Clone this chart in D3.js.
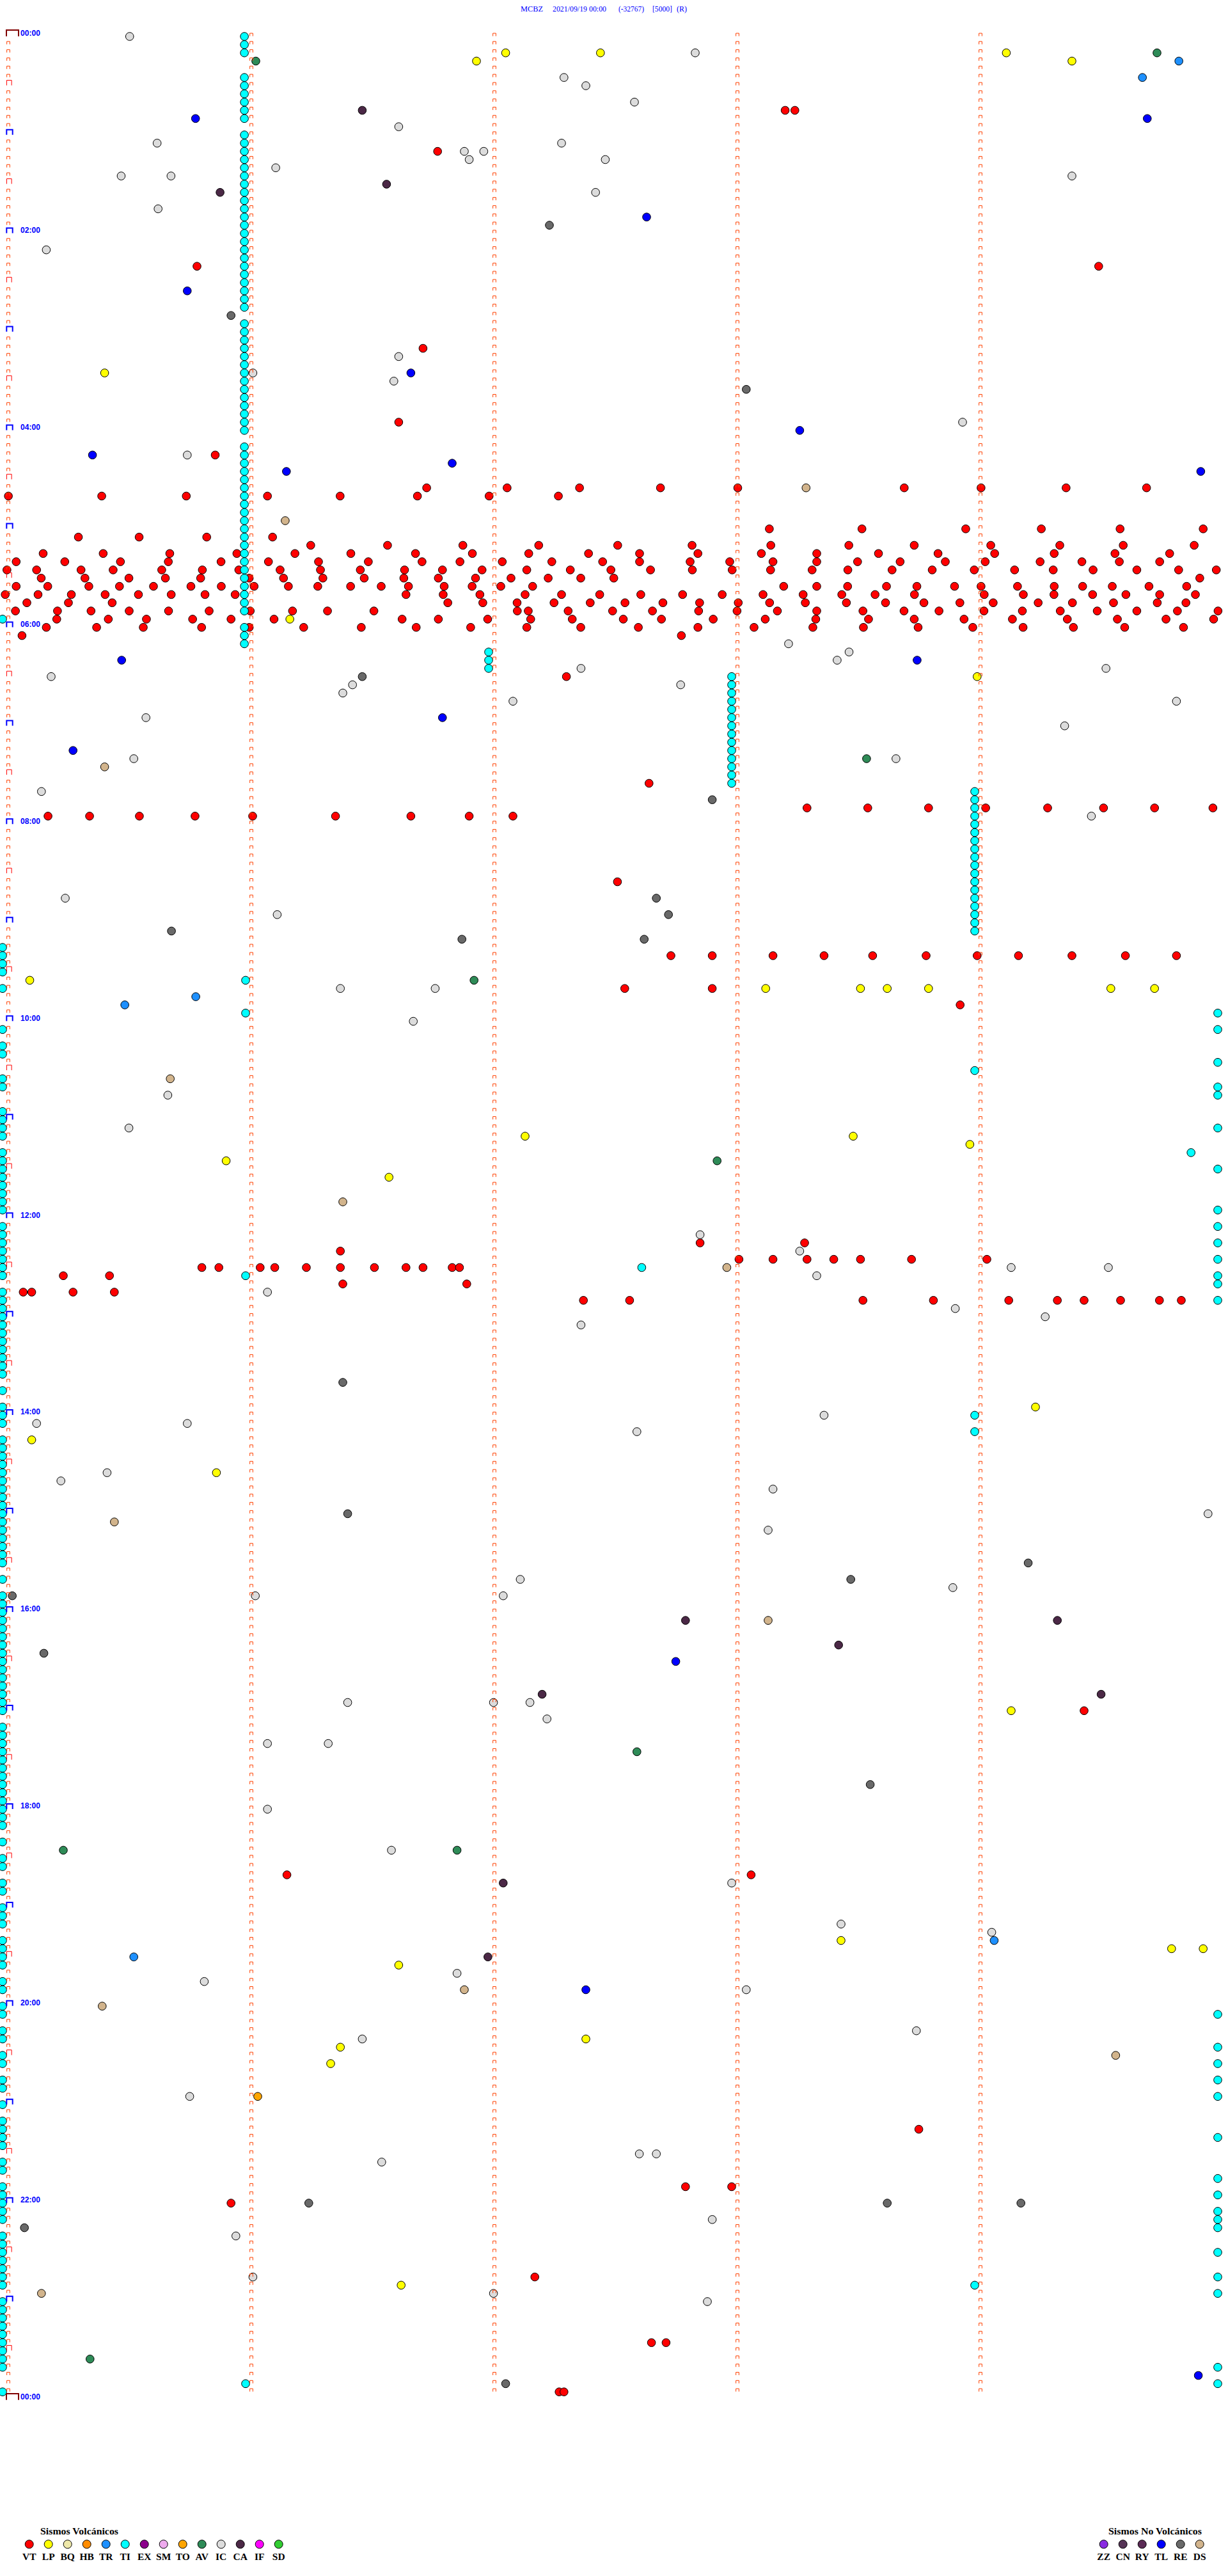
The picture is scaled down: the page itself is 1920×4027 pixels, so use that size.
<!DOCTYPE html>
<html>
<head>
<meta charset="utf-8">
<script src="https://cdn.jsdelivr.net/npm/d3@7"></script>
<style>
  body { margin: 0; background: #fff; }
  svg { display: block; }
</style>
</head>
<body>
<div id="chart"></div>
<script>
// Helicorder MCBZ: 288 filas de 5 minutos, cada evento = [fila, minuto dentro de la fila]
const tituloPartes = ["MCBZ", "2021/09/19 00:00", "(-32767)", "[5000]", "(R)"];
const horas = ["00:00", "02:00", "04:00", "06:00", "08:00", "10:00", "12:00",
  "14:00", "16:00", "18:00", "20:00", "22:00", "00:00"];

const tiposVolcanicos = ["VT", "LP", "BQ", "HB", "TR", "TI", "EX", "SM", "TO", "AV", "IC", "CA", "IF", "SD"];
const tiposNoVolcanicos = ["ZZ", "CN", "RY", "TL", "RE", "DS"];

const VT = [
  [9, 3.22], [9, 3.26], [14, 1.79], [28, 0.80], [28, 4.51], [38, 1.73], [47, 1.63], [51, 0.875],
  [55, 1.745], [55, 2.076], [55, 2.374], [55, 2.707], [55, 3.025], [55, 3.71], [55, 4.026], [55, 4.376], [55, 4.707],
  [56, 0.024], [56, 0.408], [56, 0.756], [56, 1.09], [56, 1.389], [56, 1.707], [56, 2.002], [56, 2.287],
  [60, 3.155], [60, 3.536], [60, 3.963], [60, 4.274], [60, 4.598], [60, 4.94],
  [61, 0.312], [61, 0.562], [61, 0.84], [61, 1.111],
  [62, 1.268], [62, 1.584], [62, 1.894], [62, 2.206], [62, 2.531], [62, 2.837], [62, 3.161], [62, 3.482],
  [62, 3.751], [62, 4.066], [62, 4.35], [62, 4.611], [62, 4.903],
  [63, 0.167], [63, 0.414], [63, 0.688], [63, 0.964], [63, 1.203], [63, 1.433], [63, 1.699], [63, 1.933],
  [63, 2.165], [63, 2.411], [63, 2.621], [63, 2.861], [63, 3.122], [63, 3.35], [63, 3.604], [63, 3.849],
  [63, 4.082], [63, 4.327], [63, 4.577], [63, 4.802],
  [64, 0.056], [64, 0.256], [64, 0.485], [64, 0.682], [64, 0.899], [64, 1.094], [64, 1.3], [64, 1.505],
  [64, 1.726], [64, 1.882], [64, 2.056], [64, 2.26], [64, 2.469], [64, 2.621], [64, 2.829], [64, 2.992],
  [64, 3.17], [64, 3.35], [64, 3.518], [64, 3.693], [64, 3.879], [64, 4.043], [64, 4.269], [64, 4.441],
  [64, 4.595], [64, 4.761],
  [65, 0.018], [65, 0.14], [65, 0.323], [65, 0.455], [65, 0.655], [65, 0.822], [65, 0.972], [65, 1.142],
  [65, 1.308], [65, 1.472], [65, 1.654], [65, 1.81], [65, 1.973], [65, 2.157], [65, 2.336], [65, 2.503],
  [65, 2.666], [65, 2.838], [65, 3.002], [65, 3.16], [65, 3.331], [65, 3.478], [65, 3.66], [65, 3.825],
  [65, 3.998], [65, 4.164], [65, 4.323], [65, 4.487], [65, 4.667], [65, 4.839], [65, 4.994],
  [66, 0.159], [66, 0.339], [66, 0.52], [66, 0.67], [66, 0.815], [66, 1.015], [66, 1.156], [66, 1.318],
  [66, 1.488], [66, 1.651], [66, 1.793], [66, 1.946], [66, 2.092], [66, 2.245], [66, 2.379], [66, 2.515], [66, 4.926],
  [67, 0.056], [67, 0.186], [67, 0.355], [67, 0.481], [67, 0.621], [67, 0.775], [67, 0.9], [67, 1.035],
  [67, 1.176], [67, 1.297], [67, 1.432], [67, 1.558], [67, 1.67], [67, 1.817], [67, 1.932], [67, 2.05],
  [67, 2.181], [67, 3.214], [67, 3.35], [67, 3.477], [67, 3.637], [67, 3.762], [67, 3.917], [67, 4.026],
  [67, 4.176], [67, 4.327], [67, 4.444], [67, 4.566], [67, 4.717], [67, 4.872],
  [68, 0.011], [68, 0.146], [68, 0.283], [68, 0.422], [68, 0.559], [68, 0.694], [68, 0.833], [68, 0.957],
  [68, 1.66], [68, 1.813], [68, 1.964], [68, 2.15], [68, 2.3], [68, 2.457], [68, 2.626], [68, 2.798],
  [68, 2.961], [68, 3.129], [68, 3.294], [68, 3.453], [68, 3.59], [68, 3.752], [68, 4.039], [68, 4.2],
  [68, 4.326], [68, 4.485], [68, 4.622], [68, 4.761], [68, 4.908],
  [69, 0.1], [69, 0.271], [69, 0.451], [69, 1.832], [69, 1.976], [69, 2.117], [69, 2.269], [69, 2.418],
  [69, 2.561], [69, 2.717], [69, 2.868], [69, 3.027], [69, 3.156], [69, 3.303], [69, 3.472], [69, 3.633],
  [69, 3.791], [69, 3.939], [69, 4.076], [69, 4.261], [69, 4.402], [69, 4.571], [69, 4.751], [69, 4.869],
  [70, 0.053], [70, 0.226], [70, 0.364], [70, 0.521], [70, 0.683], [70, 0.85], [70, 1.019], [70, 1.193],
  [70, 1.337], [70, 1.528], [70, 2.118], [70, 2.163], [70, 2.327], [70, 2.51], [70, 2.674], [70, 2.864],
  [70, 3.022], [70, 3.188], [70, 3.35], [70, 3.54], [70, 3.709], [70, 3.853], [70, 4.038], [70, 4.196],
  [70, 4.352], [70, 4.504], [70, 4.667], [70, 4.834], [70, 5.001],
  [71, 0.223], [71, 0.435], [71, 0.592], [71, 0.782], [71, 0.94], [71, 1.117], [71, 1.644], [71, 1.793],
  [71, 1.996], [71, 2.173], [71, 2.344], [71, 2.554], [71, 2.711], [71, 2.924], [71, 3.138], [71, 3.346],
  [71, 3.563], [71, 3.751], [71, 3.956], [71, 4.155], [71, 4.381], [71, 4.587], [71, 4.787], [71, 4.983],
  [72, 0.18], [72, 0.387], [72, 0.579], [72, 0.819], [72, 1.015], [72, 1.239], [72, 1.476], [72, 1.702],
  [72, 1.926], [72, 2.157], [72, 2.379], [72, 2.616], [72, 2.861], [72, 3.092], [72, 3.334], [72, 3.542],
  [72, 3.767], [72, 3.992], [72, 4.199], [72, 4.406], [72, 4.617], [72, 4.859],
  [73, 0.08], [73, 2.793], [78, 2.32], [91, 2.66],
  [94, 3.31], [94, 3.56], [94, 3.81], [94, 4.045], [94, 4.30], [94, 4.53], [94, 4.74], [94, 4.98],
  [95, 0.187], [95, 0.358], [95, 0.563], [95, 0.792], [95, 1.029], [95, 1.37], [95, 1.68], [95, 1.92], [95, 2.10],
  [103, 2.53],
  [112, 2.75], [112, 2.92], [112, 3.17], [112, 3.38], [112, 3.58], [112, 3.80], [112, 4.01], [112, 4.18],
  [112, 4.40], [112, 4.62], [112, 4.83],
  [116, 2.56], [116, 2.92], [118, 3.94],
  [147, 2.87], [147, 3.30], [148, 1.39],
  [149, 3.03], [149, 3.17], [149, 3.31], [149, 3.42], [149, 3.53], [149, 3.74], [149, 4.05],
  [150, 0.82], [150, 0.89], [150, 1.06], [150, 1.12], [150, 1.25], [150, 1.39], [150, 1.53], [150, 1.66],
  [150, 1.73], [150, 1.85], [150, 1.88],
  [151, 0.25], [151, 0.44], [152, 1.40], [152, 1.91],
  [153, 0.085], [153, 0.12], [153, 0.29], [153, 0.46],
  [154, 2.39], [154, 2.58], [154, 3.54], [154, 3.83], [154, 4.14], [154, 4.34], [154, 4.45], [154, 4.60],
  [154, 4.76], [154, 4.85],
  [204, 4.45], [224, 1.17], [224, 3.08], [255, 3.77], [262, 2.81], [262, 3.00], [264, 0.94], [273, 2.19],
  [281, 2.67], [281, 2.73], [287, 2.29], [287, 2.31]
];

const LP = [
  [2, 2.07], [3, 1.95], [2, 2.46], [2, 4.13], [3, 4.40], [41, 0.42], [71, 1.182], [78, 4.01], [115, 0.112],
  [116, 3.14], [116, 3.53], [116, 3.64], [116, 3.81], [116, 4.56], [116, 4.74], [134, 2.15], [134, 3.50],
  [135, 3.98], [137, 0.92], [139, 1.59], [167, 4.25], [171, 0.12], [175, 0.88], [204, 4.15], [232, 3.45],
  [233, 4.81], [233, 4.94], [235, 1.63], [244, 2.40], [245, 1.39], [247, 1.35], [274, 1.64]
];

const TR = [[3, 4.84], [5, 4.69], [117, 0.795], [118, 0.503], [232, 4.08], [234, 0.54]];

const TO = [[251, 1.05]];

const AV = [[2, 4.75], [3, 1.042], [88, 3.555], [115, 1.94], [137, 2.94], [209, 2.61], [221, 0.25], [221, 1.87], [283, 0.36]];

const IC = [
  [0, 0.523], [2, 2.85], [5, 2.31], [6, 2.40], [8, 2.60], [11, 1.63], [13, 0.636], [13, 2.30], [14, 1.90],
  [14, 1.98], [15, 1.92], [15, 2.48], [16, 1.124], [17, 0.488], [17, 0.693], [17, 4.40], [19, 2.44],
  [21, 0.64], [26, 0.18], [39, 1.63], [41, 1.03], [42, 1.61], [47, 3.95], [51, 0.76], [74, 3.234],
  [75, 3.483], [76, 3.434], [77, 2.38], [77, 4.54], [78, 0.20], [79, 1.44], [79, 2.79], [80, 1.40],
  [81, 2.10], [81, 4.83], [83, 0.59], [84, 4.37], [88, 0.54], [88, 3.676], [92, 0.16], [95, 4.48],
  [105, 0.258], [107, 1.13], [116, 1.39], [116, 1.78], [120, 1.69], [129, 0.68], [133, 0.52], [146, 2.87],
  [148, 3.28], [150, 4.15], [150, 4.55], [151, 3.35], [153, 1.09], [155, 3.92], [156, 4.29], [157, 2.38],
  [168, 3.38], [169, 0.76], [169, 0.14], [170, 2.61], [175, 0.43], [176, 0.24], [177, 3.17], [180, 4.96],
  [182, 3.15], [188, 2.13], [189, 3.91], [190, 2.06], [190, 1.04], [203, 1.42], [203, 2.02], [203, 2.17],
  [205, 2.24], [208, 1.09], [208, 1.34], [216, 1.09], [221, 1.60], [225, 3.00], [230, 3.45], [231, 4.07],
  [236, 1.87], [237, 0.83], [238, 3.06], [243, 3.76], [244, 1.48], [251, 0.77], [258, 2.62], [258, 2.69],
  [259, 1.56], [266, 2.92], [268, 0.96], [273, 1.03], [275, 2.02], [276, 2.90]
];

const CA = [[9, 1.48], [18, 1.58], [19, 0.895], [193, 2.81], [193, 4.34], [196, 3.44], [202, 2.22], [202, 4.52], [225, 2.06], [234, 1.997]];

const RE = [
  [23, 2.25], [34, 0.94], [43, 3.06], [78, 1.48], [93, 2.92], [105, 2.69], [107, 2.74], [109, 0.695],
  [110, 2.64], [110, 1.89], [164, 1.40], [180, 1.42], [186, 4.22], [188, 3.49], [190, 0.04], [197, 0.17],
  [213, 3.57], [264, 1.26], [264, 3.64], [264, 4.19], [267, 0.09], [286, 2.07]
];

const TL = [
  [10, 0.794], [10, 4.71], [22, 2.65], [31, 0.76], [41, 1.68], [48, 3.28], [51, 0.37], [52, 1.85],
  [53, 1.168], [53, 4.93], [76, 0.49], [76, 3.763], [83, 1.81], [87, 0.29], [198, 2.77], [238, 2.40], [285, 4.92]
];

const DS = [[55, 3.306], [59, 1.163], [89, 0.42], [127, 0.69], [142, 1.40], [150, 2.98], [181, 0.46], [193, 3.15], [238, 1.90], [240, 0.41], [246, 4.58], [275, 0.16]];

const TI = [
  // columna del minuto 1
  [0, 0.995], [1, 0.995], [2, 0.995], [5, 0.995], [6, 0.995], [7, 0.995], [8, 0.995], [9, 0.995], [10, 0.995],
  [12, 0.995], [13, 0.995], [14, 0.995], [15, 0.995], [16, 0.995], [17, 0.995], [18, 0.995], [19, 0.995],
  [20, 0.995], [21, 0.995], [22, 0.995], [23, 0.995], [24, 0.995], [25, 0.995], [26, 0.995], [27, 0.995],
  [28, 0.995], [29, 0.995], [30, 0.995], [31, 0.995], [32, 0.995], [33, 0.995], [35, 0.995], [36, 0.995],
  [37, 0.995], [38, 0.995], [39, 0.995], [40, 0.995], [41, 0.995], [42, 0.995], [43, 0.995], [44, 0.995],
  [45, 0.995], [46, 0.995], [47, 0.995], [48, 0.995], [50, 0.995], [51, 0.995], [52, 0.995], [53, 0.995],
  [54, 0.995], [55, 0.995], [56, 0.995], [57, 0.995], [58, 0.995], [59, 0.995], [60, 0.995], [61, 0.995],
  [62, 0.995], [63, 0.995], [64, 0.995], [65, 0.995], [66, 0.995], [67, 0.995], [68, 0.995], [69, 0.995],
  [70, 0.995], [72, 0.995], [73, 0.995], [74, 0.995],
  [115, 1.0], [119, 1.0], [151, 1.0], [286, 1.0],
  // minuto 2 y 3
  [75, 2.0], [76, 2.0], [77, 2.0], [150, 2.63],
  [78, 3.0], [79, 3.0], [80, 3.0], [81, 3.0], [82, 3.0], [83, 3.0], [84, 3.0], [85, 3.0], [86, 3.0],
  [87, 3.0], [88, 3.0], [89, 3.0], [90, 3.0], [91, 3.0],
  // minuto 4
  [92, 4.0], [93, 4.0], [94, 4.0], [95, 4.0], [96, 4.0], [97, 4.0], [98, 4.0], [99, 4.0], [100, 4.0],
  [101, 4.0], [102, 4.0], [103, 4.0], [104, 4.0], [105, 4.0], [106, 4.0], [107, 4.0], [108, 4.0], [109, 4.0],
  [126, 4.0], [168, 4.0], [170, 4.0], [274, 4.0], [136, 4.89],
  // borde derecho
  [119, 5.0], [121, 5.0], [125, 5.0], [128, 5.0], [129, 5.0], [133, 5.0], [138, 5.0], [143, 5.0], [145, 5.0],
  [147, 5.0], [149, 5.0], [151, 5.0], [152, 5.0], [154, 5.0], [241, 5.0], [245, 5.0], [247, 5.0], [249, 5.0],
  [251, 5.0], [256, 5.0], [261, 5.0], [263, 5.0], [265, 5.0], [266, 5.0], [267, 5.0], [270, 5.0], [273, 5.0],
  [275, 5.0], [284, 5.0], [286, 5.0],
  // borde izquierdo
  [71, 0.0], [111, 0.0], [112, 0.0], [113, 0.0], [114, 0.0], [116, 0.0], [121, 0.0], [123, 0.0], [124, 0.0],
  [127, 0.0], [128, 0.0], [131, 0.0], [132, 0.0], [133, 0.0], [134, 0.0], [136, 0.0], [137, 0.0], [138, 0.0],
  [139, 0.0], [140, 0.0], [141, 0.0], [142, 0.0], [143, 0.0], [145, 0.0], [146, 0.0], [147, 0.0], [148, 0.0],
  [149, 0.0], [150, 0.0], [151, 0.0], [153, 0.0], [154, 0.0], [155, 0.0], [156, 0.0], [157, 0.0], [158, 0.0],
  [159, 0.0], [160, 0.0], [161, 0.0], [162, 0.0], [163, 0.0], [165, 0.0], [167, 0.0], [168, 0.0], [169, 0.0],
  [171, 0.0], [172, 0.0], [173, 0.0], [174, 0.0], [175, 0.0], [176, 0.0], [177, 0.0], [178, 0.0], [179, 0.0],
  [180, 0.0], [181, 0.0], [182, 0.0], [183, 0.0], [184, 0.0], [185, 0.0], [186, 0.0], [188, 0.0], [190, 0.0],
  [191, 0.0], [192, 0.0], [193, 0.0], [194, 0.0], [195, 0.0], [196, 0.0], [197, 0.0], [198, 0.0], [199, 0.0],
  [200, 0.0], [201, 0.0], [202, 0.0], [203, 0.0], [204, 0.0], [206, 0.0], [207, 0.0], [208, 0.0], [209, 0.0],
  [210, 0.0], [211, 0.0], [212, 0.0], [213, 0.0], [214, 0.0], [215, 0.0], [216, 0.0], [217, 0.0], [218, 0.0],
  [220, 0.0], [222, 0.0], [223, 0.0], [225, 0.0], [226, 0.0], [228, 0.0], [229, 0.0], [230, 0.0], [232, 0.0],
  [233, 0.0], [234, 0.0], [235, 0.0], [237, 0.0], [238, 0.0], [240, 0.0], [241, 0.0], [243, 0.0], [244, 0.0],
  [246, 0.0], [247, 0.0], [249, 0.0], [250, 0.0], [252, 0.0], [254, 0.0], [255, 0.0], [256, 0.0], [257, 0.0],
  [259, 0.0], [260, 0.0], [262, 0.0], [263, 0.0], [264, 0.0], [265, 0.0], [266, 0.0], [268, 0.0], [269, 0.0],
  [270, 0.0], [271, 0.0], [272, 0.0], [273, 0.0], [274, 0.0], [276, 0.0], [277, 0.0], [278, 0.0], [279, 0.0],
  [280, 0.0], [281, 0.0], [282, 0.0], [283, 0.0], [284, 0.0], [287, 0.0]
];

const colores = {
  VT: "#ff0000", LP: "#ffff00", BQ: "#eee8aa", HB: "#ff8c00", TR: "#1e90ff", TI: "#00ffff",
  EX: "#8b008b", SM: "#eeaaee", TO: "#ffa500", AV: "#2e8b57", IC: "#dcdcdc", CA: "#4b2846",
  IF: "#ff00ff", SD: "#32cd32",
  ZZ: "#8a2be2", CN: "#553355", RY: "#5a2a55", TL: "#0000ff", RE: "#696969", DS: "#d2b48c"
};

// orden de dibujo: TI al final (queda encima)
const eventos = [["VT", VT], ["LP", LP], ["TR", TR], ["TO", TO], ["AV", AV], ["IC", IC], ["CA", CA],
  ["RE", RE], ["TL", TL], ["DS", DS], ["TI", TI]];

const width = 1920;
const height = 4027;
const nFilas = 288;

const svg = d3.select("#chart").append("svg")
  .attr("width", width)
  .attr("height", height)
  .style("background", "#fff");

const xScale = d3.scaleLinear().domain([0, 5]).range([4, 1904]);
const yScale = d3.scaleLinear().domain([0, nFilas]).range([57, 3752]);

// titulo
const tituloX = [814, 864, 967, 1020, 1058];
const tituloLargo = [35, 84, 40, 31, 16];
svg.append("g").attr("class", "titulo")
  .selectAll("text")
  .data(tituloPartes)
  .join("text")
  .attr("x", (d, i) => tituloX[i])
  .attr("y", 18)
  .attr("textLength", (d, i) => tituloLargo[i])
  .attr("lengthAdjust", "spacingAndGlyphs")
  .attr("font-family", "'Liberation Serif', 'Times New Roman', serif")
  .attr("font-size", 13.5)
  .attr("fill", "#0000ff")
  .text(d => d);

// puntos de eventos
const gEventos = svg.append("g").attr("class", "eventos");
eventos.forEach(([tipo, datos]) => {
  gEventos.append("g")
    .attr("class", "tipo-" + tipo)
    .selectAll("circle")
    .data(datos)
    .join("circle")
    .attr("cx", d => xScale(d[1]))
    .attr("cy", d => yScale(d[0]))
    .attr("r", 6.3)
    .attr("fill", colores[tipo])
    .attr("stroke", "#000")
    .attr("stroke-width", 1);
});

// marcas de minuto (corchetes) en cada fila
const gMarcas = svg.append("g").attr("class", "marcas").attr("fill", "none");
const filas = d3.range(nFilas);
const minutos = [0, 1, 2, 3, 4];

function corchete(cx, y, ancho, alto) {
  const p = d3.path();
  p.moveTo(cx - ancho / 2, y);
  p.lineTo(cx - ancho / 2, y - alto);
  p.lineTo(cx + ancho / 2, y - alto);
  p.lineTo(cx + ancho / 2, y);
  return p.toString();
}

filas.forEach(r => {
  const y = yScale(r);
  minutos.forEach(m => {
    const cx = xScale(m) + 9;
    if (m === 0 && r === 0) return;
    if (m === 0 && r % 12 === 0) {
      gMarcas.append("path")
        .attr("d", corchete(cx + 2, y - 0.3, 9.4, 8))
        .attr("stroke", "#0000ff").attr("stroke-width", 2);
      return;
    }
    if (m === 0 && r % 12 === 6) {
      gMarcas.append("path")
        .attr("d", corchete(cx + 1.3, y - 0.5, 7.7, 8))
        .attr("stroke", "#ff0000").attr("stroke-width", 1);
      return;
    }
    gMarcas.append("path")
      .attr("d", corchete(cx, y - 0.5, 4.7, 4.5))
      .attr("stroke", "#ff4000").attr("stroke-width", 1);
  });
});

// inicio y fin del dia
[0, nFilas].forEach(r => {
  gMarcas.append("path")
    .attr("d", corchete(xScale(0) + 15.5, yScale(r) - 0.3, 19, 9.7))
    .attr("stroke", "#800000").attr("stroke-width", 2);
});

// etiquetas de hora
svg.append("g").attr("class", "horas")
  .selectAll("text")
  .data(horas)
  .join("text")
  .attr("x", 32)
  .attr("y", (d, i) => yScale(i * 24) - 1)
  .attr("textLength", 31)
  .attr("lengthAdjust", "spacingAndGlyphs")
  .attr("font-family", "'Liberation Sans', Arial, sans-serif")
  .attr("font-weight", "bold")
  .attr("font-size", 12.5)
  .attr("fill", "#0000ff")
  .text(d => d);

// leyendas
function leyenda(titulo, tipos, x0, tituloX, tituloLargo) {
  const g = svg.append("g").attr("class", "leyenda");
  g.append("text")
    .attr("x", tituloX)
    .attr("y", 3962)
    .attr("textLength", tituloLargo)
    .attr("lengthAdjust", "spacingAndGlyphs")
    .attr("font-family", "'Liberation Serif', 'Times New Roman', serif")
    .attr("font-weight", "bold")
    .attr("font-size", 15)
    .attr("fill", "#000")
    .text(titulo);
  const items = g.selectAll("g.item")
    .data(tipos)
    .join("g")
    .attr("class", "item")
    .attr("transform", (d, i) => `translate(${x0 + i * 30},0)`);
  items.append("circle")
    .attr("cx", 0)
    .attr("cy", 3977.3)
    .attr("r", 6.5)
    .attr("fill", d => colores[d])
    .attr("stroke", "#000")
    .attr("stroke-width", 1);
  items.append("text")
    .attr("x", 0)
    .attr("y", 4001.5)
    .attr("text-anchor", "middle")
    .attr("font-family", "'Liberation Serif', 'Times New Roman', serif")
    .attr("font-weight", "bold")
    .attr("font-size", 15.5)
    .attr("fill", "#000")
    .text(d => d);
}

leyenda("Sismos Volcánicos", tiposVolcanicos, 45.7, 63, 122);
leyenda("Sismos No Volcánicos", tiposNoVolcanicos, 1725.7, 1733, 146);
</script>
</body>
</html>
